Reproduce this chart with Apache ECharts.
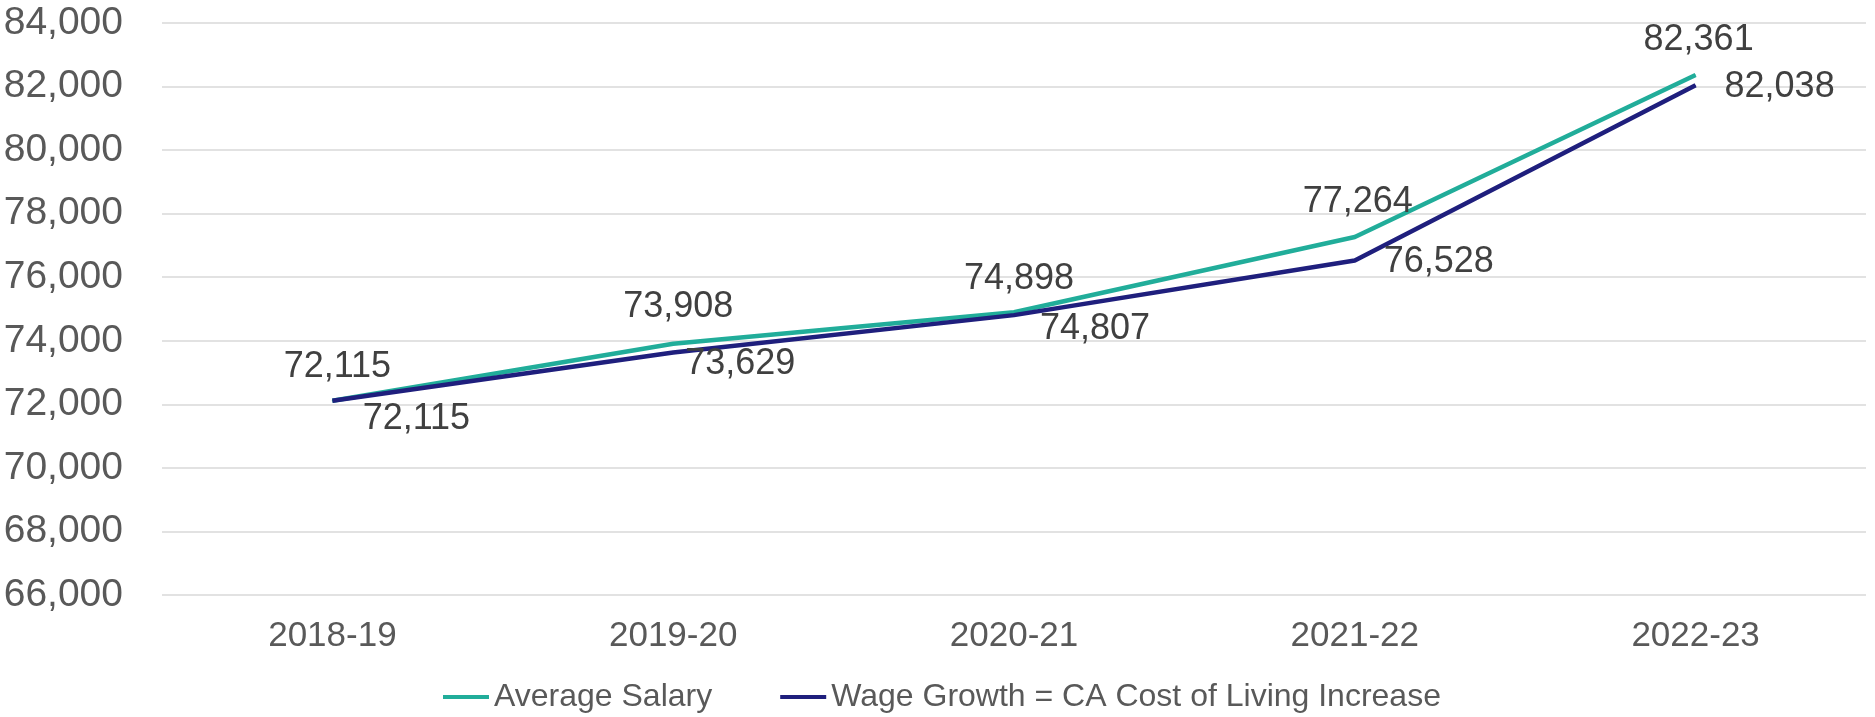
<!DOCTYPE html>
<html>
<head>
<meta charset="utf-8">
<script src="https://cdn.jsdelivr.net/npm/echarts@6/dist/echarts.min.js"></script>
<style>
  html, body { margin: 0; padding: 0; background: #fff; }
  #chartBox { width: 1875px; height: 717px; }
</style>
</head>
<body>
<div id="chartBox"></div>
<script>
const AVG_C = '#21ad9a'
const WAGE_C = '#1f1f7d'
const FONT = '"Liberation Sans", Arial, sans-serif'

const years = ['2018-19', '2019-20', '2020-21', '2021-22', '2022-23']
const avgSalary = [72115, 73908, 74898, 77264, 82361]
const wageGrowth = [72115, 73629, 74807, 76528, 82038]
const yTicks = [66000, 68000, 70000, 72000, 74000, 76000, 78000, 80000, 82000, 84000]

// label nudges (px) so the numbers sit where the original puts them
const avgLabelOffset = [[5, -34], [5, -37], [5, -33], [3, -35], [3, -35]]
const wageLabelOffset = [[84, 18], [67, 12], [81, 14], [84, 2], [84, 2]]

const fmt = v => v.toLocaleString('en-US')

function withLabels(values, offsets) {
  return values.map((v, i) => ({
    value: v,
    label: { offset: offsets[i] },
  }))
}

const labelStyle = {
  show: true,
  position: 'inside',
  color: '#404040',
  fontSize: 36,
  fontFamily: FONT,
  formatter: p => fmt(p.value),
}

const option = {
  animation: false,
  grid: {
    left: 162,
    right: 9,
    top: 23,
    bottom: 122,
    containLabel: false,
    outerBoundsMode: 'none',
  },
  legend: {
    left: 438,
    top: 676,
    icon: 'rect',
    itemWidth: 46,
    itemHeight: 4,
    itemGap: 68,
    textStyle: { color: '#595959', fontSize: 32, fontFamily: FONT },
    data: ['Average Salary', 'Wage Growth = CA Cost of Living Increase'],
  },
  xAxis: {
    type: 'category',
    data: years,
    boundaryGap: true,
    axisLine: { show: false },
    axisTick: { show: false },
    axisLabel: { color: '#595959', fontSize: 35, fontFamily: FONT, margin: 24 },
  },
  yAxis: {
    type: 'value',
    min: yTicks[0],
    max: yTicks[yTicks.length - 1],
    interval: yTicks[1] - yTicks[0],
    axisLine: { show: false },
    axisTick: { show: false },
    splitLine: { lineStyle: { color: '#d9d9d9', width: 1.5 } },
    axisLabel: { color: '#595959', fontSize: 39, fontFamily: FONT, margin: 39, formatter: fmt },
  },
  series: [
    {
      name: 'Average Salary',
      type: 'line',
      data: withLabels(avgSalary, avgLabelOffset),
      symbol: 'circle',
      symbolSize: 1,
      itemStyle: { color: AVG_C },
      lineStyle: { color: AVG_C, width: 4.5 },
      label: labelStyle,
    },
    {
      name: 'Wage Growth = CA Cost of Living Increase',
      type: 'line',
      data: withLabels(wageGrowth, wageLabelOffset),
      symbol: 'circle',
      symbolSize: 1,
      itemStyle: { color: WAGE_C },
      lineStyle: { color: WAGE_C, width: 4.5 },
      label: labelStyle,
    },
  ],
}

const chart = echarts.init(document.getElementById('chartBox'))
chart.setOption(option)
</script>
</body>
</html>
